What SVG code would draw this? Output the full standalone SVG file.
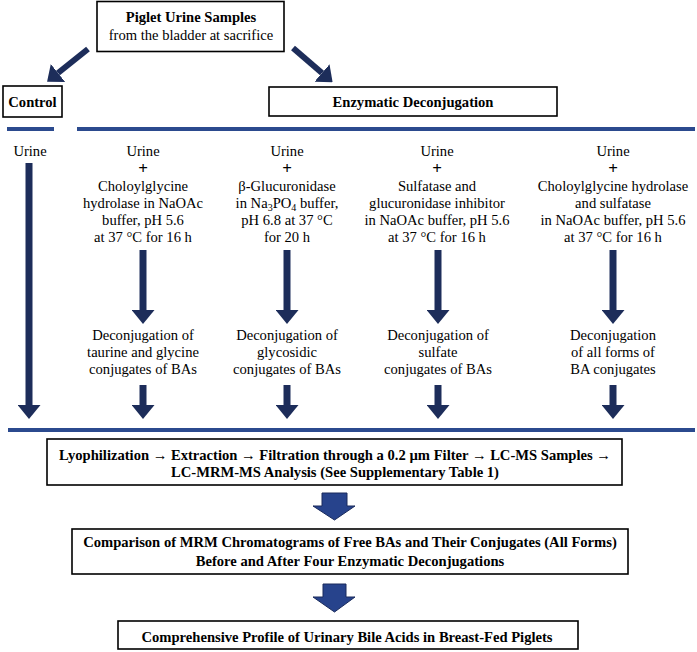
<svg xmlns="http://www.w3.org/2000/svg" width="697" height="652" viewBox="0 0 697 652">
<style>
text{font-family:"Liberation Serif","Times New Roman",serif;font-size:14.6px;fill:#000;text-anchor:middle}
.b{font-weight:bold}
.p{font-weight:bold;font-size:17px}
.box{fill:#fff;stroke:#000;stroke-width:1.6}
.bar{stroke:#2b4a8e;stroke-width:4}
.arr{stroke:#1d2d5a;stroke-width:7;fill:none}
.darr{stroke:#1d2d5a;stroke-width:6;fill:none}
.big{fill:#27438c;stroke:#1a2b5c;stroke-width:1}
</style>
<defs>
<marker id="ah" markerUnits="userSpaceOnUse" markerWidth="14" markerHeight="23" viewBox="0 0 14 23" refX="0" refY="11.5" orient="auto">
<path d="M0,0 L14,11.5 L0,23 z" fill="#1d2d5a"/>
</marker>
</defs>
<rect width="697" height="652" fill="#fff"/>

<g id="connectors">
<line class="darr" x1="88" y1="49" x2="58" y2="73" marker-end="url(#ah)"/>
<line class="darr" x1="293" y1="48" x2="322" y2="73" marker-end="url(#ah)"/>
<line class="bar" x1="7" y1="129" x2="54" y2="129"/>
<line class="bar" x1="77" y1="129" x2="695" y2="129"/>
<line class="arr" x1="29" y1="163" x2="29" y2="405" marker-end="url(#ah)"/>
<line class="arr" x1="143" y1="250" x2="143" y2="310" marker-end="url(#ah)"/>
<line class="arr" x1="287" y1="250" x2="287" y2="310" marker-end="url(#ah)"/>
<line class="arr" x1="438" y1="250" x2="438" y2="310" marker-end="url(#ah)"/>
<line class="arr" x1="613" y1="250" x2="613" y2="310" marker-end="url(#ah)"/>
<line class="arr" x1="143" y1="385" x2="143" y2="405" marker-end="url(#ah)"/>
<line class="arr" x1="287" y1="385" x2="287" y2="405" marker-end="url(#ah)"/>
<line class="arr" x1="438" y1="385" x2="438" y2="405" marker-end="url(#ah)"/>
<line class="arr" x1="613" y1="385" x2="613" y2="405" marker-end="url(#ah)"/>
<line class="bar" x1="8" y1="430" x2="695" y2="430"/>
<path class="big" d="M322,493 H347 V506 H355 L334.5,520 L313,506 H322 Z"/>
<path class="big" d="M323,584 H346 V597 H355 L334.5,612 L313,597 H323 Z"/>
</g>

<g id="piglet">
<rect class="box" x="97" y="1.5" width="187" height="50"/>
<text class="b" x="191" y="22">Piglet Urine Samples</text>
<text x="191" y="40">from the bladder at sacrifice</text>
</g>

<g id="control">
<rect class="box" x="3" y="86" width="59" height="31"/>
<text class="b" x="32.5" y="107">Control</text>
</g>

<g id="enzymatic">
<rect class="box" x="269" y="87" width="288" height="29"/>
<text class="b" x="413" y="107">Enzymatic Deconjugation</text>
</g>

<g id="control-urine">
<text x="30" y="156">Urine</text>
</g>

<g id="col1">
<text x="143" y="156">Urine</text>
<text class="p" x="143" y="174">+</text>
<text x="143" y="190.5">Choloylglycine</text>
<text x="143" y="207.5">hydrolase in NaOAc</text>
<text x="143" y="224.5">buffer, pH 5.6</text>
<text x="143" y="242">at 37 °C for 16 h</text>
</g>

<g id="col2">
<text x="287" y="156">Urine</text>
<text class="p" x="287" y="174">+</text>
<text x="287" y="190.5">β-Glucuronidase</text>
<text x="287" y="207.5">in Na<tspan font-size="10" dy="3">3</tspan><tspan dy="-3">PO</tspan><tspan font-size="10" dy="3">4</tspan><tspan dy="-3"> buffer,</tspan></text>
<text x="287" y="224.5">pH 6.8 at 37 °C</text>
<text x="287" y="242">for 20 h</text>
</g>

<g id="col3">
<text x="437" y="156">Urine</text>
<text class="p" x="437" y="174">+</text>
<text x="437" y="190.5">Sulfatase and</text>
<text x="437" y="207.5">glucuronidase inhibitor</text>
<text x="437" y="224.5">in NaOAc buffer, pH 5.6</text>
<text x="437" y="242">at 37 °C for 16 h</text>
</g>

<g id="col4">
<text x="613" y="156">Urine</text>
<text class="p" x="613" y="174">+</text>
<text x="613" y="190.5">Choloylglycine hydrolase</text>
<text x="613" y="207.5">and sulfatase</text>
<text x="613" y="224.5">in NaOAc buffer, pH 5.6</text>
<text x="613" y="242">at 37 °C for 16 h</text>
</g>

<g id="dec1">
<text x="143" y="340">Deconjugation of</text>
<text x="143" y="357">taurine and glycine</text>
<text x="143" y="373.5">conjugates of BAs</text>
</g>
<g id="dec2">
<text x="287" y="340">Deconjugation of</text>
<text x="287" y="357">glycosidic</text>
<text x="287" y="373.5">conjugates of BAs</text>
</g>
<g id="dec3">
<text x="438" y="340">Deconjugation of</text>
<text x="438" y="357">sulfate</text>
<text x="438" y="373.5">conjugates of BAs</text>
</g>
<g id="dec4">
<text x="613" y="340">Deconjugation</text>
<text x="613" y="357">of all forms of</text>
<text x="613" y="373.5">BA conjugates</text>
</g>

<g id="lyophilization">
<rect class="box" x="47" y="439" width="575" height="46" stroke-width="2"/>
<text class="b" x="335" y="460">Lyophilization → Extraction → Filtration through a 0.2 µm Filter → LC-MS Samples →</text>
<text class="b" x="335" y="477">LC-MRM-MS Analysis (See Supplementary Table 1)</text>
</g>

<g id="comparison">
<rect class="box" x="72" y="529" width="556" height="45" stroke-width="2"/>
<text class="b" x="350" y="547">Comparison of MRM Chromatograms of Free BAs and Their Conjugates (All Forms)</text>
<text class="b" x="350" y="566">Before and After Four Enzymatic Deconjugations</text>
</g>

<g id="profile">
<rect class="box" x="118" y="621" width="460" height="28" stroke-width="2"/>
<text class="b" x="347" y="642">Comprehensive Profile of Urinary Bile Acids in Breast-Fed Piglets</text>
</g>
</svg>
